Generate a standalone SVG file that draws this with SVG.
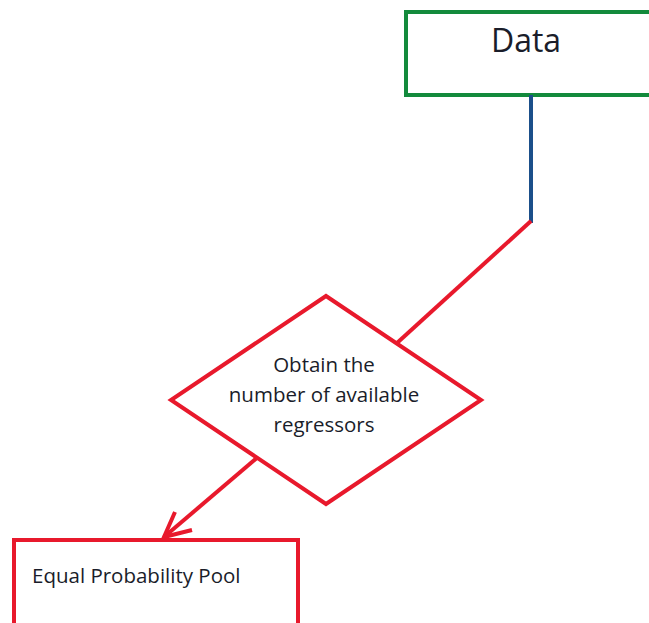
<svg xmlns="http://www.w3.org/2000/svg" width="649" height="623" viewBox="0 0 649 623">
<style>
.t{font-family:"Open Sans","Liberation Sans",sans-serif;fill:#1a1d2a}
.red{fill:none;stroke:#e8192c;stroke-width:4}
</style>
<rect width="649" height="623" fill="#fff"/>
<g id="data">
<rect x="406" y="12" width="260" height="83" fill="#fff" stroke="#138a3c" stroke-width="4"/>
<text class="t" x="526" y="52" font-size="32" text-anchor="middle">Data</text>
</g>
<g id="decision">
<polygon class="red" points="326,296 481,400 326,504 171,400" fill="#fff"/>
<text class="t" x="324" y="372" font-size="20.5" text-anchor="middle">Obtain the</text>
<text class="t" x="324" y="402" font-size="20.5" text-anchor="middle">number of available</text>
<text class="t" x="324" y="432" font-size="20.5" text-anchor="middle">regressors</text>
</g>
<g id="pool">
<rect class="red" x="14" y="540" width="284" height="100" fill="#fff"/>
<text class="t" x="32" y="583" font-size="20.5">Equal Probability Pool</text>
</g>
<g id="connectors">
<line x1="531" y1="95" x2="531" y2="223" stroke="#1b4f8a" stroke-width="4"/>
<line class="red" x1="531" y1="221" x2="397" y2="343"/>
<line class="red" x1="258" y1="457" x2="164" y2="537"/>
<polyline class="red" points="175,512 164,537 192,530"/>
</g>
</svg>
